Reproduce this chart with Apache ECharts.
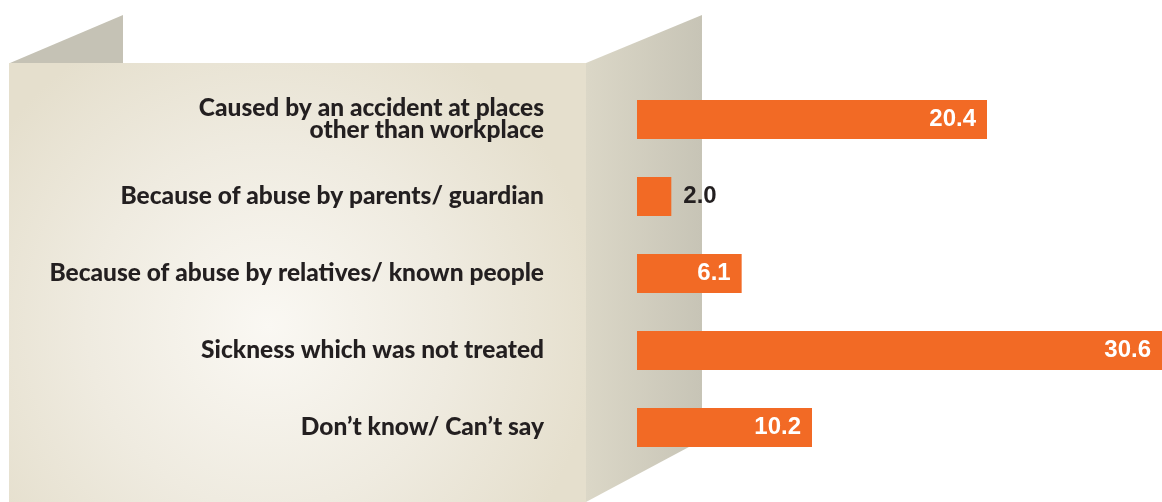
<!DOCTYPE html>
<html>
<head>
<meta charset="utf-8">
<style>
  html, body { margin: 0; padding: 0; background: #ffffff; }
  #chart { width: 1162px; height: 502px; }
</style>
<script src="https://cdn.jsdelivr.net/npm/echarts@6/dist/echarts.min.js"></script>
</head>
<body>
<div id="chart"></div>
<script>
// Reasons reported, percent of respondents
const categories = [
  'Caused by an accident at places\nother than workplace',
  'Because of abuse by parents/ guardian',
  'Because of abuse by relatives/ known people',
  'Sickness which was not treated',
  'Don\u2019t know/ Can\u2019t say'
];
const values = [20.4, 2.0, 6.1, 30.6, 10.2];

const ORANGE = '#f26a25';
const INK = '#231f20';
const LABEL_FONT = 'Lato';
const VALUE_FONT = '"Liberation Sans Narrow"';

function draw() {
  const chart = echarts.init(document.getElementById('chart'), null, { renderer: 'canvas' });

  // Bars too short to hold their number get it outside in dark ink
  const seriesData = values.map(v => ({
    value: v,
    label: v < 4
      ? { position: 'right', color: INK, distance: 12 }
      : { position: 'insideRight', color: '#ffffff', distance: 11 }
  }));

  chart.setOption({
    animation: false,
    backgroundColor: '#ffffff',
    graphic: [
      // front board with a soft glow near its middle
      {
        type: 'rect', z: -30, silent: true,
        shape: { x: 9, y: 63, width: 577, height: 439 },
        style: {
          fill: {
            type: 'radial', x: 0.45, y: 0.6, r: 0.75,
            colorStops: [
              { offset: 0, color: '#faf8f3' },
              { offset: 0.55, color: '#efebe0' },
              { offset: 1, color: '#e5dfcd' }
            ]
          }
        }
      },
      // folded back flap, top left
      {
        type: 'polygon', z: -20, silent: true,
        shape: { points: [[10, 63], [123, 15], [123, 63]] },
        style: { fill: '#c5c2b5' }
      },
      // side wing to the right of the board
      {
        type: 'polygon', z: -20, silent: true,
        shape: { points: [[586, 63], [702, 15], [702, 440], [586, 502]] },
        style: {
          fill: {
            type: 'linear', x: 0, y: 0, x2: 1, y2: 0,
            colorStops: [
              { offset: 0, color: '#dbd7c7' },
              { offset: 1, color: '#c7c4b6' }
            ]
          }
        }
      }
    ],
    grid: { left: 637, right: 0, top: 81, height: 385, containLabel: false },
    xAxis: {
      type: 'value', min: 0, max: 30.6,
      show: false
    },
    yAxis: {
      type: 'category',
      data: categories,
      inverse: true,
      axisLine: { show: false },
      axisTick: { show: false },
      splitLine: { show: false },
      axisLabel: {
        margin: 93,
        align: 'right',
        color: INK,
        fontFamily: LABEL_FONT,
        fontWeight: 900,
        fontSize: 24.5,
        lineHeight: 22,
        padding: [6, 0, 0, 0]
      }
    },
    series: [{
      type: 'bar',
      data: seriesData,
      barWidth: 39,
      itemStyle: { color: ORANGE },
      label: {
        show: true,
        fontFamily: VALUE_FONT + ', "Liberation Sans", sans-serif',
        fontWeight: 'bold',
        fontSize: 24,
        padding: [3, 0, 0, 0],
        formatter: p => p.value.toFixed(1)
      }
    }]
  });
}

// Canvas text does not wait for fonts, so load them first
const fontsReady = document.fonts && document.fonts.load
  ? Promise.all([
      document.fonts.load('900 24px ' + LABEL_FONT),
      document.fonts.load('bold 24px ' + VALUE_FONT)
    ]).catch(() => {})
  : Promise.resolve();
Promise.race([fontsReady, new Promise(r => setTimeout(r, 1500))]).then(draw);
</script>
</body>
</html>
